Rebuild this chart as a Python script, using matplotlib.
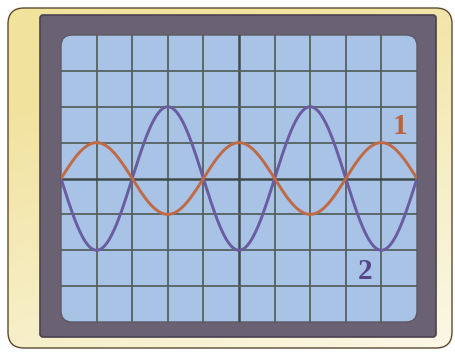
import numpy as np
import matplotlib
matplotlib.use("Agg")
import matplotlib.pyplot as plt
from matplotlib.patches import FancyBboxPatch
from matplotlib.colors import to_rgb

# screen grid, in divisions
x_divs = [0, 1, 2, 3, 4, 5, 6, 7, 8, 9, 10]
y_divs = [-4, -3, -2, -1, 0, 1, 2, 3, 4]

# traces: amplitude (div), period (div), sign at start
trace_names = ["1", "2"]
amplitudes = [1.0, 2.0]
periods = [4.0, 4.0]
start_signs = [1, -1]
label_x = [9.52, 8.54]
label_y = [1.45, -2.6]

trace_colors = ["#bf6a45", "#6a5ca0"]
label_colors = ["#bb6238", "#55468a"]

W, H = 455, 353
fig = plt.figure(figsize=(W / 100, H / 100), dpi=100)

# background / frame in pixel units
bg = fig.add_axes([0, 0, 1, 1])
bg.set_xlim(0, W)
bg.set_ylim(H, 0)
bg.axis("off")

outer = FancyBboxPatch((8, 8), 444, 340, boxstyle="round,pad=0,rounding_size=16",
                       facecolor="none", edgecolor="#5b4a32", linewidth=1.0, zorder=3)
bg.add_patch(outer)
top_c = np.array(to_rgb("#f1e29c"))
bot_c = np.array(to_rgb("#fcfaee"))
gy, gx = np.mgrid[0:1:200j, 0:1:200j]
t = np.clip(0.75 * gy + 0.35 * gx - 0.2, 0, 1)[..., None]
grad = top_c * (1 - t) + bot_c * t
im = bg.imshow(grad, extent=(8, 452, 348, 8), zorder=1)
im.set_clip_path(outer)

bezel = FancyBboxPatch((40, 15), 396, 322, boxstyle="round,pad=0,rounding_size=3",
                       facecolor="#6a6172", edgecolor="#4a4252", linewidth=1.2, zorder=4)
bg.add_patch(bezel)

screen = FancyBboxPatch((61, 35), 356, 287, boxstyle="round,pad=0,rounding_size=11",
                        facecolor="#a8c3e6", edgecolor="#5d5866", linewidth=1.0, zorder=5)
bg.add_patch(screen)

# screen axes
ax = fig.add_axes([61 / W, 1 - 322 / H, 356 / W, 287 / H])
ax.set_xlim(x_divs[0], x_divs[-1])
ax.set_ylim(y_divs[0], y_divs[-1])
ax.axis("off")
ax.patch.set_alpha(0)

clip = FancyBboxPatch((0, 0), 1, 1, boxstyle="round,pad=0,rounding_size=0.03",
                      transform=ax.transAxes, facecolor="none", edgecolor="none")
ax.add_patch(clip)

for xv in x_divs[1:-1]:
    lw = 1.8 if xv == 5 else 1.3
    col = "#3f4b4b" if xv == 5 else "#56625f"
    ax.axvline(xv, color=col, linewidth=lw, zorder=1)
for yv in y_divs[1:-1]:
    lw = 1.8 if yv == 0 else 1.3
    col = "#3f4b4b" if yv == 0 else "#56625f"
    ax.axhline(yv, color=col, linewidth=lw, zorder=1)

x = np.linspace(x_divs[0], x_divs[-1], 600)
for i in range(len(trace_names)):
    y = start_signs[i] * amplitudes[i] * np.sin(2 * np.pi * x / periods[i])
    ax.plot(x, y, color=trace_colors[i], linewidth=2.1, zorder=3 - i * 0.5,
            solid_capstyle="butt")
    ax.text(label_x[i], label_y[i], trace_names[i], color=label_colors[i],
            fontsize=21, fontweight="bold", family=["Liberation Serif", "DejaVu Serif"],
            ha="center", va="center", zorder=4)

for art in ax.lines:
    art.set_clip_path(clip)

fig.savefig("out.png", dpi=100)
